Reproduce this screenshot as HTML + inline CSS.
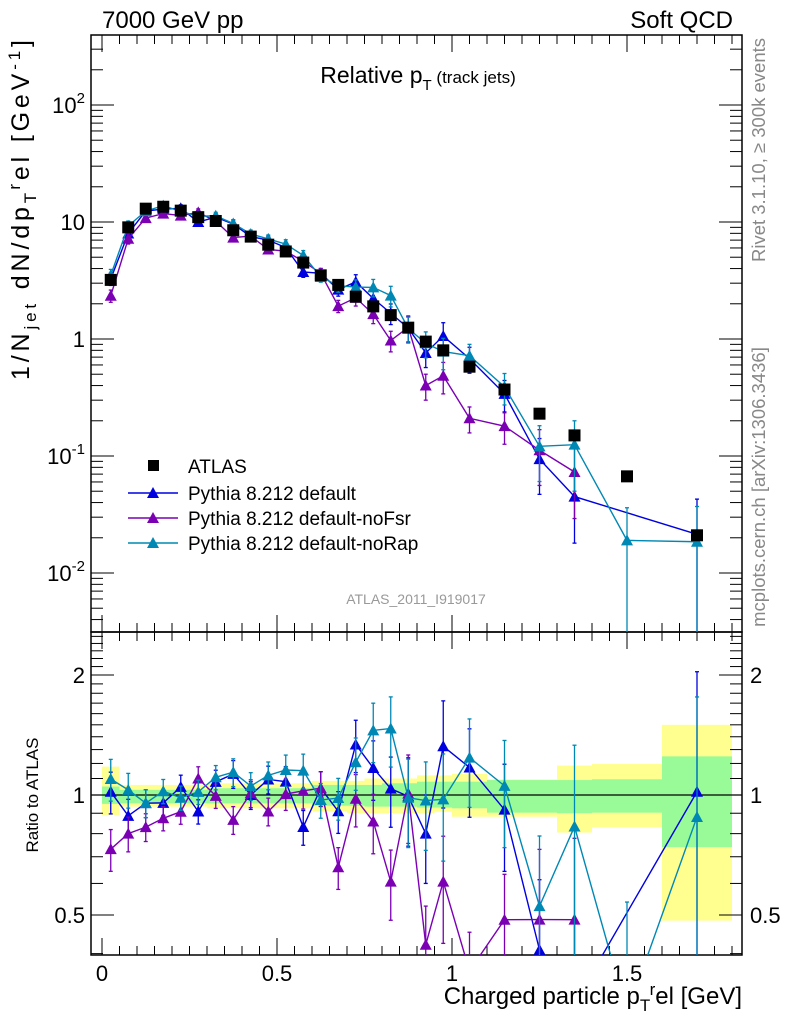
<!DOCTYPE html>
<html><head><meta charset="utf-8"><style>
html,body{margin:0;padding:0;background:#fff;overflow:hidden;}
svg{display:block;font-family:"Liberation Sans",sans-serif;}
</style></head><body>
<svg id="c" width="786" height="1024" viewBox="0 0 786 1024" xmlns="http://www.w3.org/2000/svg">
<g id="bands"></g>
<g id="grid"></g>
<g id="series"></g>
<text x="102" y="28" font-size="24">7000 GeV pp</text>
<text x="733" y="28" font-size="24" text-anchor="end">Soft QCD</text>
<text x="418" y="83" font-size="23" text-anchor="middle">Relative p<tspan font-size="15" dy="7">T</tspan><tspan font-size="17" dy="-7"> (track jets)</tspan></text>
<text x="416" y="604" font-size="14" fill="#999" text-anchor="middle">ATLAS_2011_I919017</text>
<text transform="translate(765,150) rotate(-90)" font-size="18.5" fill="#888" text-anchor="middle">Rivet 3.1.10, ≥ 300k events</text>
<text transform="translate(765,487) rotate(-90)" font-size="18.5" fill="#888" text-anchor="middle">mcplots.cern.ch [arXiv:1306.3436]</text>
<text transform="translate(29,210) rotate(-90)" font-size="25" text-anchor="middle" textLength="340" lengthAdjust="spacing">1/N<tspan font-size="17" dy="7">jet</tspan><tspan dy="-7"> dN/dp</tspan><tspan font-size="17" dy="7">T</tspan><tspan font-size="17" dy="-16">r</tspan><tspan dy="9">el [GeV</tspan><tspan font-size="17" dy="-9">-1</tspan><tspan dy="9">]</tspan></text>
<text transform="translate(38,795) rotate(-90)" font-size="17" text-anchor="middle">Ratio to ATLAS</text>
<text x="742" y="1004" font-size="24" text-anchor="end">Charged particle p<tspan font-size="17" dy="7">T</tspan><tspan font-size="17" dy="-16">r</tspan><tspan dy="9">el [GeV]</tspan></text>
<g id="legend"></g>
</svg>
<script>
const binEdges=[0,0.05,0.1,0.15,0.2,0.25,0.3,0.35,0.4,0.45,0.5,0.55,0.6,0.65,0.7,0.75,0.8,0.85,0.9,0.95,1.0,1.1,1.2,1.3,1.4,1.6,1.8];
const atlas=[3.2,9.0,13,13.5,12.5,11,10.2,8.5,7.5,6.4,5.6,4.5,3.5,2.9,2.3,1.9,1.6,1.25,0.95,0.8,0.58,0.37,0.23,0.15,0.067,0.021];
const pyDefault=[3.26,7.98,12.4,12.9,13.1,10.0,11.0,9.6,7.5,7.0,6.05,3.74,3.64,2.64,3.08,2.22,1.66,1.24,0.76,1.06,0.68,0.34,0.094,0.045,null,0.0214];
const pyNoFsr=[2.34,7.2,10.8,11.8,11.35,12.1,10.15,7.36,7.58,5.82,5.63,4.61,3.64,1.91,2.25,1.63,0.97,1.26,0.40,0.485,0.21,0.18,0.112,0.073,null,null];
const pyNoRap=[3.51,9.27,12.4,13.8,12.3,11.2,11.3,9.7,7.9,7.17,6.47,5.18,3.4,2.85,2.78,2.76,2.35,1.23,0.92,0.78,0.72,0.39,0.121,0.125,0.019,0.0185];
const modelRelErr=[0.12,0.1,0.08,0.07,0.07,0.07,0.07,0.08,0.08,0.08,0.09,0.1,0.1,0.12,0.15,0.17,0.2,0.25,0.25,0.3,0.25,0.3,0.5,0.6,0.9,1.0];
const yellowUp=[1.178,1.06,1.06,1.06,1.06,1.06,1.07,1.07,1.07,1.07,1.07,1.07,1.085,1.085,1.085,1.1,1.1,1.1,1.12,1.12,1.13,1.095,1.095,1.185,1.196,1.5];
const yellowLo=[0.891,0.935,0.935,0.935,0.935,0.935,0.926,0.926,0.926,0.926,0.926,0.926,0.91,0.91,0.9,0.9,0.9,0.9,0.9,0.908,0.882,0.882,0.882,0.805,0.83,0.484];
const greenUp=[1.05,1.03,1.03,1.03,1.03,1.03,1.04,1.04,1.04,1.04,1.04,1.04,1.06,1.06,1.06,1.06,1.07,1.07,1.08,1.08,1.08,1.09,1.09,1.09,1.095,1.25];
const greenLo=[0.95,0.953,0.953,0.953,0.953,0.953,0.953,0.953,0.953,0.953,0.953,0.953,0.94,0.94,0.94,0.935,0.935,0.935,0.93,0.93,0.926,0.903,0.903,0.9,0.903,0.74];
const mainTickLabels=["10^-2","10^-1","1","10","10^2"];
const ratioTickVals=[0.5,1,2];
const xTickVals=[0,0.5,1,1.5];
const seriesNames=["Pythia 8.212 default","Pythia 8.212 default-noFsr","Pythia 8.212 default-noRap"];
const seriesColors=["#0000e0","#7b00b4","#0088b4"];

const NS="http://www.w3.org/2000/svg";
const L=91,R=742,MT=35,MB=632,RB=955;
const xs=v=>102+v*350;
const ys=v=>339-117*Math.log10(v);
const yr=v=>795-398.6*Math.log10(v);
function mk(tag,attrs,parent){const e=document.createElementNS(NS,tag);for(const k in attrs)e.setAttribute(k,attrs[k]);parent.appendChild(e);return e;}
const G=document.getElementById('grid'),S=document.getElementById('series'),B=document.getElementById('bands'),LG=document.getElementById('legend');
const centers=[];for(let i=0;i<binEdges.length-1;i++)centers.push((binEdges[i]+binEdges[i+1])/2);

for(let i=0;i<centers.length;i++){
 const x0=xs(binEdges[i]),w=xs(binEdges[i+1])-x0;
 let r=mk('rect',{x:x0,y:yr(yellowUp[i]),width:w,height:yr(yellowLo[i])-yr(yellowUp[i]),fill:'#ffff90'},B);
 
 
 r=mk('rect',{x:x0,y:yr(greenUp[i]),width:w,height:yr(greenLo[i])-yr(greenUp[i]),fill:'#98fb98'},B);
 
 
}
let f=mk('rect',{x:L,y:MT,width:R-L,height:MB-MT,fill:'none',stroke:'#000','stroke-width':1.5},G);


f=mk('rect',{x:L,y:MB,width:R-L,height:RB-MB,fill:'none',stroke:'#000','stroke-width':1.5},G);


let one=mk('line',{x1:L,x2:R,y1:yr(1),y2:yr(1),stroke:'#000','stroke-width':1.3},G);


for(let k=0;k<=36;k++){const v=k*0.05;const x=xs(v);if(x>R)break;
 const major=k%10==0;const len=major?17:9;
 for(const [y0,dir] of [[MT,1],[MB,-1],[MB,1],[RB,-1]]){mk('line',{x1:x,x2:x,y1:y0,y2:y0+dir*len,stroke:'#000'},G);}
}
xTickVals.forEach(v=>{const t=mk('text',{x:xs(v),y:981,'font-size':22,'text-anchor':'middle'},G);t.textContent=String(v);
 
 });
for(let d=-3;d<=2;d++){for(let m=1;m<10;m++){const v=m*Math.pow(10,d);const y=ys(v);if(y<MT||y>MB)continue;const len=m==1?23:12;
 mk('line',{x1:L,x2:L+len,y1:y,y2:y,stroke:'#000'},G);mk('line',{x1:R,x2:R-len,y1:y,y2:y,stroke:'#000'},G);}}
mainTickLabels.forEach((s,i)=>{const y=ys(Math.pow(10,i-2))+8;const t=mk('text',{x:85,y:y,'font-size':22,'text-anchor':'end'},G);
 const p=s.split('^');t.textContent=p[0];if(p[1]){const ts=mk('tspan',{'font-size':15,dy:-10},t);ts.textContent=p[1];}
 
 });
for(let k=4;k<=25;k++){const v=k/10;const y=yr(v);if(y<MB||y>RB)continue;const major=(k==5||k==10||k==20);const len=major?23:12;
 mk('line',{x1:L,x2:L+len,y1:y,y2:y,stroke:'#000'},G);mk('line',{x1:R,x2:R-len,y1:y,y2:y,stroke:'#000'},G);}
ratioTickVals.forEach(v=>{for(const [x,a] of [[85,'end'],[750,'start']]){const t=mk('text',{x:x,y:yr(v)+8,'font-size':22,'text-anchor':a},G);t.textContent=String(v);
 
 }});

function tri(x,y,c,g){return mk('polygon',{points:`${x},${y-6} ${x-6},${y+5} ${x+6},${y+5}`,fill:c},g);}
const models=[pyDefault,pyNoFsr,pyNoRap];
models.forEach((vals,si)=>{
 const c=seriesColors[si];
 const g=mk('g',{},S);
 
 
 for(const panel of ['main','ratio']){
  const top=panel=='main'?MT:MB,bot=panel=='main'?MB:RB;
  const fy=(i,v)=>panel=='main'?ys(v):yr(v/atlas[i]);
  let pts=[];
  vals.forEach((v,i)=>{if(v==null)return;pts.push([xs(centers[i]),fy(i,v)]);});
  const cp=mk('clipPath',{id:'cp'+panel+si},g);mk('rect',{x:L,y:top,width:R-L,height:bot-top},cp);
  const sg=mk('g',{'clip-path':`url(#cp${panel}${si})`},g);
  mk('polyline',{points:pts.map(p=>p.join(',')).join(' '),fill:'none',stroke:c,'stroke-width':1.4},sg);
  vals.forEach((v,i)=>{if(v==null)return;const x=xs(centers[i]);const e=modelRelErr[i]*v;
   const y1=fy(i,v+e),y2=v-e>0?Math.min(fy(i,v-e),bot+5):bot+5;
   mk('line',{x1:x,x2:x,y1:y1,y2:y2,stroke:c,'stroke-width':1.3},sg);
   mk('line',{x1:x-2,x2:x+2,y1:y1,y2:y1,stroke:c,'stroke-width':1.3},sg);
   if(y2<bot)mk('line',{x1:x-2,x2:x+2,y1:y2,y2:y2,stroke:c,'stroke-width':1.3},sg);
   const m=tri(x,fy(i,v),c,sg);
   
   });
 }
});
const ag=mk('g',{},S);


atlas.forEach((v,i)=>{const r=mk('rect',{x:xs(centers[i])-6,y:ys(v)-6,width:12,height:12,fill:'#000'},ag);
 
 });
const lr=mk('rect',{x:148,y:460,width:11,height:11,fill:'#000'},LG);


let lt=mk('text',{x:188,y:473,'font-size':19},LG);lt.textContent='ATLAS';


seriesNames.forEach((n,i)=>{const y=493+25*i;mk('line',{x1:128,x2:178,y1:y,y2:y,stroke:seriesColors[i],'stroke-width':1.4},LG);
 tri(153,y,seriesColors[i],LG);
 const t=mk('text',{x:188,y:y+7,'font-size':19},LG);t.textContent=n;
 
 });
</script>
</body></html>
